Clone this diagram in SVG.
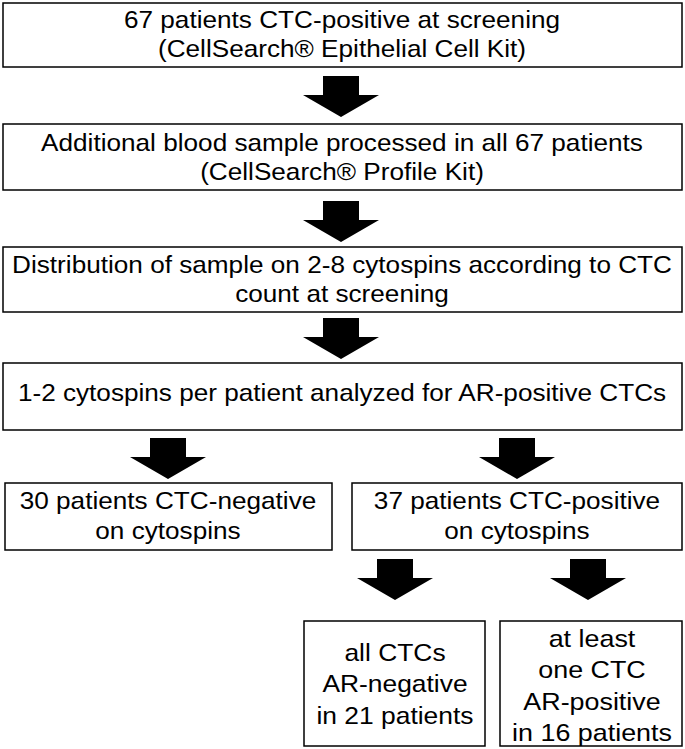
<svg xmlns="http://www.w3.org/2000/svg" width="685" height="749" viewBox="0 0 685 749">
<style>
.box{fill:#fff;stroke:#000;stroke-width:1.5}
.t{font-family:"Liberation Sans",Arial,sans-serif;font-size:24px;fill:#000;text-anchor:middle}
.arr{fill:#000}
</style>
<defs>
<path id="a" d="M-18,0 H18 V19 H38 L0,41 L-38,19 H-18 Z"/>
</defs>
<rect width="685" height="749" fill="#fff"/>
<g id="n1"><rect class="box" x="3" y="3" width="679" height="64"/>
<g transform="translate(342 0) scale(1.09 1)">
<text class="t" x="0" y="28">67 patients CTC-positive at screening</text>
<text class="t" x="0" y="57">(CellSearch® Epithelial Cell Kit)</text></g></g>
<g id="n2"><rect class="box" x="3" y="124" width="679" height="66"/>
<g transform="translate(342 0) scale(1.09 1)">
<text class="t" x="0" y="151">Additional blood sample processed in all 67 patients</text>
<text class="t" x="0" y="180">(CellSearch® Profile Kit)</text></g></g>
<g id="n3"><rect class="box" x="3" y="247" width="679" height="65"/>
<g transform="translate(342 0) scale(1.09 1)">
<text class="t" x="0" y="273">Distribution of sample on 2-8 cytospins according to CTC</text>
<text class="t" x="0" y="302">count at screening</text></g></g>
<g id="n4"><rect class="box" x="3" y="363" width="679" height="67"/>
<g transform="translate(342 0) scale(1.09 1)">
<text class="t" x="0" y="401">1-2 cytospins per patient analyzed for AR-positive CTCs</text></g></g>
<g id="n5"><rect class="box" x="5" y="483" width="327" height="67"/>
<g transform="translate(168 0) scale(1.09 1)">
<text class="t" x="0" y="509">30 patients CTC-negative</text>
<text class="t" x="0" y="539">on cytospins</text></g></g>
<g id="n6"><rect class="box" x="352" y="483" width="330" height="67"/>
<g transform="translate(517 0) scale(1.09 1)">
<text class="t" x="0" y="509">37 patients CTC-positive</text>
<text class="t" x="0" y="539">on cytospins</text></g></g>
<g id="n7"><rect class="box" x="304" y="621" width="181" height="125"/>
<g transform="translate(395 0) scale(1.1 1)">
<text class="t" x="0" y="661">all CTCs</text>
<text class="t" x="0" y="692">AR-negative</text>
<text class="t" x="0" y="724">in 21 patients</text></g></g>
<g id="n8"><rect class="box" x="500" y="621" width="182" height="125"/>
<g transform="translate(592 0) scale(1.12 1)">
<text class="t" x="0" y="647">at least</text>
<text class="t" x="0" y="678">one CTC</text>
<text class="t" x="0" y="710">AR-positive</text>
<text class="t" x="0" y="741">in 16 patients</text></g></g>
<g id="connectors">
<use class="arr" href="#a" x="341" y="76"/>
<use class="arr" href="#a" x="341" y="201"/>
<use class="arr" href="#a" x="341" y="318"/>
<use class="arr" href="#a" x="168" y="438"/>
<use class="arr" href="#a" x="517" y="438"/>
<use class="arr" href="#a" x="395" y="559"/>
<use class="arr" href="#a" x="588" y="559"/>
</g>
</svg>
